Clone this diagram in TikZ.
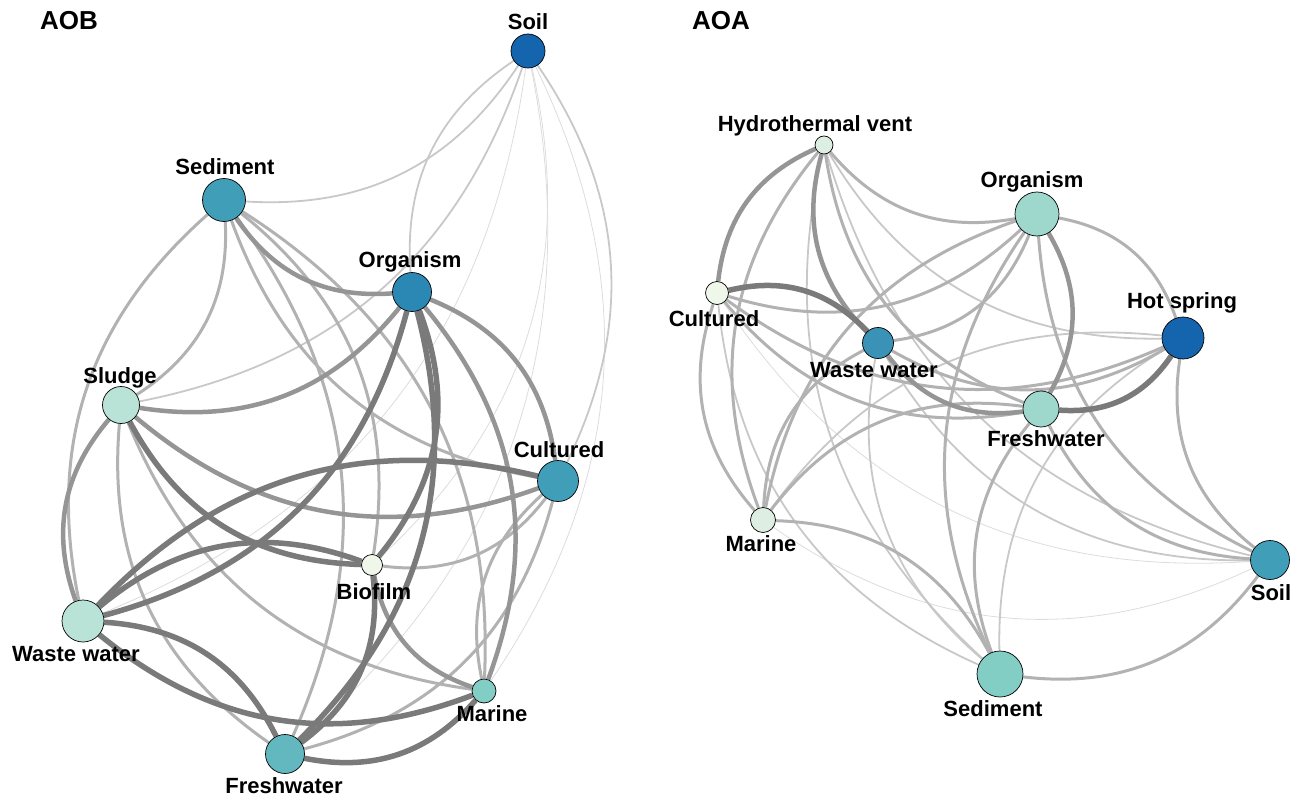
\documentclass[tikz,border=0pt]{standalone}
\usepackage{fontspec}
\setmainfont{Liberation Sans}
\usetikzlibrary{backgrounds}
\definecolor{eOne}{HTML}{DCDCDC}
\definecolor{eTwo}{HTML}{C8C8C8}
\definecolor{eThree}{HTML}{B2B2B2}
\definecolor{eFour}{HTML}{959595}
\definecolor{eFive}{HTML}{7A7A7A}
\definecolor{cDeep}{HTML}{1565AE}
\definecolor{cTeal}{HTML}{419EB9}
\definecolor{cBlue}{HTML}{2B87B4}
\definecolor{cWater}{HTML}{3A93B7}
\definecolor{cMint}{HTML}{BAE3D7}
\definecolor{cPale}{HTML}{EFF6EA}
\definecolor{cFoam}{HTML}{DDEFE2}
\definecolor{cSea}{HTML}{82CDC4}
\definecolor{cLake}{HTML}{63B8BF}
\definecolor{cLeaf}{HTML}{9ED7CB}
\begin{document}
\begin{tikzpicture}[x=1pt,y=-1pt,
  vtx/.style={circle,draw=black,line width=0.7pt,inner sep=0pt},
  lbl/.style={font=\fontsize{22}{26}\selectfont\bfseries},
  ttl/.style={font=\fontsize{26}{30}\selectfont\bfseries},
  e1/.style={line width=0.8pt,draw=eOne},
  e2/.style={line width=1.8pt,draw=eTwo},
  e3/.style={line width=3pt,draw=eThree},
  e4/.style={line width=4.5pt,draw=eFour},
  e5/.style={line width=5.5pt,draw=eFive},
  bl/.style={bend left=30},
  br/.style={bend right=30}]
\useasboundingbox (0,0) rectangle (1294,797);

% AOB
\node[ttl] (tAOB) at (69,21) {AOB};
\node[vtx,fill=cDeep,minimum size=34pt] (bSoil) at (528,51) {};
\node[vtx,fill=cTeal,minimum size=43pt] (bSed) at (224,200) {};
\node[vtx,fill=cBlue,minimum size=39pt] (bOrg) at (412,292) {};
\node[vtx,fill=cMint,minimum size=37pt] (bSlu) at (121,405) {};
\node[vtx,fill=cTeal,minimum size=41pt] (bCul) at (558,481) {};
\node[vtx,fill=cPale,minimum size=21pt] (bBio) at (372,565) {};
\node[vtx,fill=cMint,minimum size=42pt] (bWW) at (83,621) {};
\node[vtx,fill=cSea,minimum size=24pt] (bMar) at (484,691) {};
\node[vtx,fill=cLake,minimum size=39pt] (bFre) at (285,754) {};
\node[lbl] (bSoilL) at (528,22) {Soil};
\node[lbl] (bSedL) at (225,167) {Sediment};
\node[lbl] (bOrgL) at (410,262) {Organism};
\node[lbl] (bSluL) at (120,378) {Sludge};
\node[lbl] (bCulL) at (559,450) {Cultured};
\node[lbl] (bBioL) at (374,592) {Biofilm};
\node[lbl] (bWWL) at (76,654) {Waste water};
\node[lbl] (bMarL) at (492,714) {Marine};
\node[lbl] (bFreL) at (284,786) {Freshwater};

% AOA
\node[ttl] (tAOA) at (721,21) {AOA};
\node[vtx,fill=cFoam,minimum size=18pt] (aHV) at (824,145) {};
\node[vtx,fill=cLeaf,minimum size=44pt] (aOrg) at (1037,214) {};
\node[vtx,fill=cPale,minimum size=23pt] (aCul) at (717,293) {};
\node[vtx,fill=cWater,minimum size=31pt] (aWW) at (878,343) {};
\node[vtx,fill=cDeep,minimum size=42pt] (aHS) at (1183,338) {};
\node[vtx,fill=cLeaf,minimum size=36pt] (aFre) at (1041,409) {};
\node[vtx,fill=cFoam,minimum size=25pt] (aMar) at (763,520) {};
\node[vtx,fill=cTeal,minimum size=39pt] (aSoil) at (1270,560) {};
\node[vtx,fill=cSea,minimum size=46pt] (aSed) at (1000,674) {};
\node[lbl] (aHVL) at (815,126) {Hydrothermal vent};
\node[lbl] (aOrgL) at (1032,182) {Organism};
\node[lbl] (aCulL) at (714,319) {Cultured};
\node[lbl] (aWWL) at (874,370) {Waste water};
\node[lbl] (aHSL) at (1182,303) {Hot spring};
\node[lbl] (aFreL) at (1046,439) {Freshwater};
\node[lbl] (aMarL) at (761,544) {Marine};
\node[lbl] (aSoilL) at (1271,593) {Soil};
\node[lbl] (aSedL) at (993,709) {Sediment};

\begin{pgfonlayer}{background}
% AOB edges
\draw[e1] (bSoil) to[bl] (bBio);
\draw[e1] (bSoil) to[bl] (bWW);
\draw[e1] (bSoil) to[bl] (bMar);
\draw[e1] (bSoil) to[bl] (bFre);
\draw[e2] (bSed) to[br] (bSoil);
\draw[e2] (bSoil) to[br] (bOrg);
\draw[e2] (bSlu) to[br] (bSoil);
\draw[e2] (bSoil) to[bl] (bCul);
\draw[e3] (bSed) to[bl] (bSlu);
\draw[e3] (bSed) to[br] (bWW);
\draw[e3] (bSed) to[br] (bCul);
\draw[e3] (bSed) to[bl] (bBio);
\draw[e3] (bSed) to[bl] (bMar);
\draw[e3] (bSed) to[bl] (bFre);
\draw[e3] (bSlu) to[br] (bMar);
\draw[e3] (bSlu) to[br] (bFre);
\draw[e3] (bBio) to[br] (bCul);
\draw[e3] (bCul) to[br] (bMar);
\draw[e3] (bFre) to[br] (bCul);
\draw[e4] (bSed) to[br] (bOrg);
\draw[e4] (bOrg) to[bl] (bSlu);
\draw[e4] (bOrg) to[bl] (bCul);
\draw[e4] (bOrg) to[bl] (bMar);
\draw[e4] (bSlu) to[br] (bWW);
\draw[e4] (bSlu) to[br] (bCul);
\draw[e4] (bBio) to[br] (bMar);
\draw[e5] (bOrg) to[bl] (bWW);
\draw[e5] (bOrg) to[bl] (bFre);
\draw[e5] (bOrg) to[bl] (bBio);
\draw[e5] (bSlu) to[br] (bBio);
\draw[e5] (bWW) to[bl] (bCul);
\draw[e5] (bWW) to[bl] (bBio);
\draw[e5] (bWW) to[bl] (bFre);
\draw[e5] (bWW) to[br] (bMar);
\draw[e5] (bBio) to[bl] (bFre);
\draw[e5] (bFre) to[br] (bMar);
% AOA edges
\draw[e1] (aCul) to[br] (aSoil);
\draw[e1] (aMar) to[br] (aSoil);
\draw[e2] (aHV) to[br] (aSed);
\draw[e2] (aHV) to[br] (aHS);
\draw[e2] (aHV) to[br] (aSoil);
\draw[e2] (aCul) to[br] (aSed);
\draw[e2] (aWW) to[br] (aSed);
\draw[e2] (aWW) to[br] (aSoil);
\draw[e2] (aMar) to[bl] (aHS);
\draw[e2] (aHS) to[br] (aSed);
\draw[e3] (aHV) to[br] (aOrg);
\draw[e3] (aHV) to[br] (aMar);
\draw[e3] (aHV) to[br] (aFre);
\draw[e3] (aCul) to[br] (aOrg);
\draw[e3] (aCul) to[br] (aHS);
\draw[e3] (aCul) to[br] (aFre);
\draw[e3] (aCul) to[br] (aMar);
\draw[e3] (aWW) to[br] (aOrg);
\draw[e3] (aWW) to[br] (aHS);
\draw[e3] (aWW) to[br] (aMar);
\draw[e3] (aOrg) to[bl] (aHS);
\draw[e3] (aOrg) to[br] (aMar);
\draw[e3] (aOrg) to[br] (aSed);
\draw[e3] (aOrg) to[br] (aSoil);
\draw[e3] (aHS) to[br] (aSoil);
\draw[e3] (aMar) to[bl] (aFre);
\draw[e3] (aFre) to[br] (aSed);
\draw[e3] (aFre) to[br] (aSoil);
\draw[e3] (aMar) to[bl] (aSed);
\draw[e3] (aSed) to[br] (aSoil);
\draw[e4] (aHV) to[br] (aCul);
\draw[e4] (aHV) to[br] (aWW);
\draw[e4] (aWW) to[br] (aFre);
\draw[e4] (aOrg) to[bl] (aFre);
\draw[e5] (aCul) to[bl] (aWW);
\draw[e5] (aFre) to[br] (aHS);
\end{pgfonlayer}
\end{tikzpicture}
\end{document}
